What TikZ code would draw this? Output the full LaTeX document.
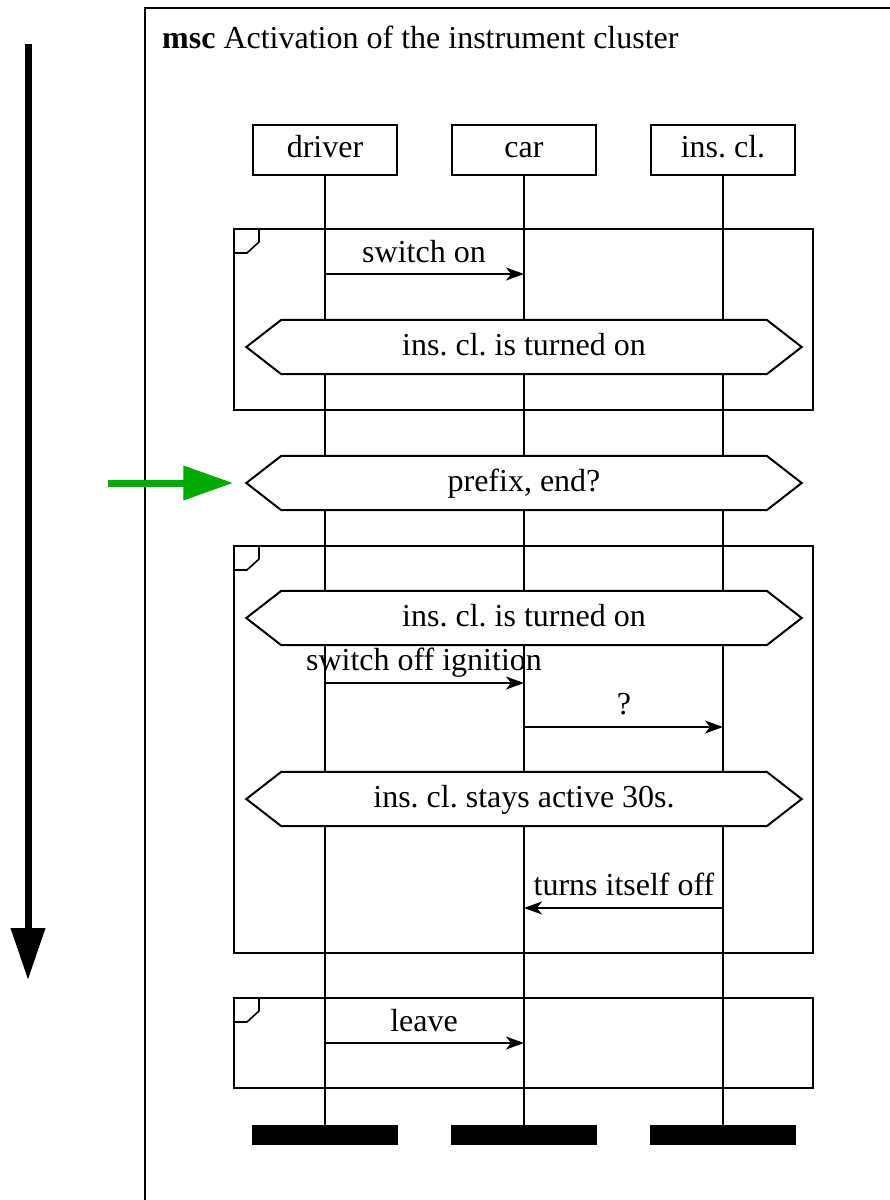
\documentclass[tikz,border=0pt]{standalone}
\usepackage{fontspec}
\setmainfont{Liberation Serif}
\usetikzlibrary{calc,arrows.meta}
\definecolor{arrowgreen}{RGB}{0,170,0}
\frenchspacing
\tikzset{
  ln/.style={line width=2pt},
  txt/.style={font=\fontsize{32}{36}\selectfont},
  inst/.style={draw,line width=2pt,minimum width=144pt,minimum height=50pt,inner sep=0pt,txt,text height=22pt,text depth=7pt},
  endbar/.style={fill=black,minimum width=146pt,minimum height=20pt,inner sep=0pt},
  msg/.style={line width=2pt,-{Stealth[length=18pt,width=13pt,inset=5pt]}},
  lbl/.style={txt,inner sep=0pt},
  condtext/.style={minimum width=555pt,minimum height=54pt,inner sep=0pt,txt,text height=22pt,text depth=6pt},
  frm/.style={line width=2pt},
}
\newcommand{\hexa}[1]{%
  \filldraw[ln,fill=white,line join=miter] ($(#1.west)$) -- ($(#1.north west)+(35,0)$) -- ($(#1.north east)+(-35,0)$) -- (#1.east) -- ($(#1.south east)+(-35,0)$) -- ($(#1.south west)+(35,0)$) -- cycle;}
\newcommand{\inlineframe}[2]{%
  \draw[frm] (234,#1) rectangle (813,#2);
  \draw[line width=1.6pt] (234,#1+24) -- (247,#1+24) -- (259,#1+13) -- (259,#1);}
\begin{document}
\begin{tikzpicture}[x=1pt,y=-1pt]
\useasboundingbox (0,0) rectangle (890,1200);
% outer frame
\draw[ln] (145,1200) -- (145,8) -- (890,8);
\node[anchor=base west,txt,inner sep=0pt] (title) at (162,48) {\textbf{msc} Activation of the instrument cluster};
% time arrow
\coordinate (ts) at (28,44);
\coordinate (te) at (28,980);
\draw[line width=7pt,-{Triangle[length=52pt,width=33pt]}] (ts) -- (te);
% instances
\node[inst] (driver) at (325,150) {driver};
\node[inst] (car) at (524,150) {car};
\node[inst] (ins) at (723,150) {ins. cl.};
\node[endbar] (driverend) at (325,1135) {};
\node[endbar] (carend) at (524,1135) {};
\node[endbar] (insend) at (723,1135) {};
% lifelines
\draw[ln] (driver.south) -- (driverend.north);
\draw[ln] (car.south) -- (carend.north);
\draw[ln] (ins.south) -- (insend.north);
% frame 1
\inlineframe{229}{410}
\draw[msg] (325,274) -- (524,274);
\node[lbl,anchor=base] (l1) at (424,262) {switch on};
\node[condtext] (c1) at (524,347) {};
\hexa{c1}
\node[condtext] (c1t) at (c1) {ins. cl. is turned on};
% prefix
\node[condtext] (c2) at (524,483) {};
\hexa{c2}
\node[condtext] (c2t) at (c2) {prefix, end?};
\coordinate (ga) at (108,483);
\draw[arrowgreen,line width=7pt,-{Triangle[length=50pt,width=33pt]},shorten >=13pt] (ga) -- (c2.west);
% frame 2
\inlineframe{546}{953}
\node[condtext] (c3) at (524,618) {};
\hexa{c3}
\node[condtext] (c3t) at (c3) {ins. cl. is turned on};
\draw[msg] (325,683) -- (524,683);
\node[lbl,anchor=base] (l2) at (424,670) {switch off ignition};
\draw[msg] (524,727) -- (723,727);
\node[lbl,anchor=base] (l3) at (624,714) {?};
\node[condtext] (c4) at (524,799) {};
\hexa{c4}
\node[condtext] (c4t) at (c4) {ins. cl. stays active 30s.};
\draw[msg] (723,908) -- (524,908);
\node[lbl,anchor=base] (l4) at (624,895) {turns itself off};
% frame 3
\inlineframe{998}{1088}
\draw[msg] (325,1043) -- (524,1043);
\node[lbl,anchor=base] (l5) at (424,1031) {leave};
\end{tikzpicture}
\end{document}
